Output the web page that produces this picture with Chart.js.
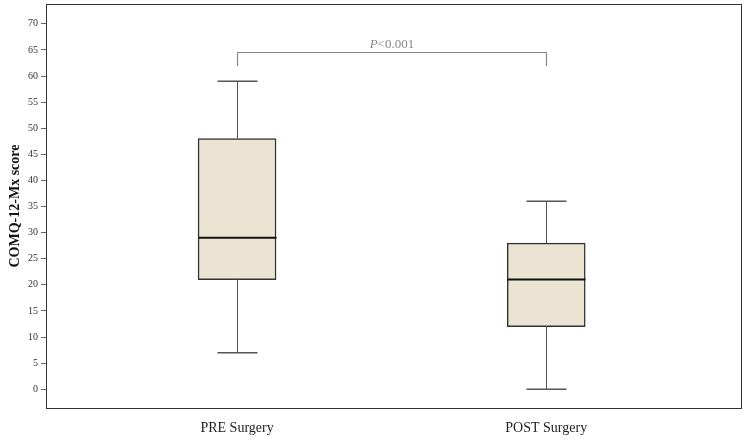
<!DOCTYPE html>
<html>
<head>
<meta charset="utf-8">
<script src="https://cdn.jsdelivr.net/npm/chart.js@4"></script>
<style>
  body { margin: 0; background: #fff; }
  canvas { display: block; }
</style>
</head>
<body>
<canvas id="boxChart" width="750" height="440"></canvas>
<script>
// Data
const categories = ['PRE Surgery', 'POST Surgery'];
const whiskerMin = [7, 0];
const q1 = [21, 12];
const median = [29, 21];
const q3 = [48, 28];
const whiskerMax = [59, 36];
const yTicks = [0, 5, 10, 15, 20, 25, 30, 35, 40, 45, 50, 55, 60, 65, 70];
const pLabel = 'P<0.001';

const serif = "'Liberation Serif', 'DejaVu Serif', serif";

// whiskers, medians, frame and the significance bracket
const boxExtras = {
    id: 'boxExtras',
    afterDatasetsDraw(chart) {
        const ctx = chart.ctx;
        const xs = chart.scales.x;
        const ys = chart.scales.y;
        ctx.save();
        categories.forEach((c, i) => {
            const x = Math.round(xs.getPixelForValue(i + 1)) + 0.5;
            ctx.strokeStyle = '#555';
            ctx.lineWidth = 1;
            ctx.beginPath();
            ctx.moveTo(x, ys.getPixelForValue(q3[i]));
            ctx.lineTo(x, ys.getPixelForValue(whiskerMax[i]));
            ctx.moveTo(x, ys.getPixelForValue(q1[i]));
            ctx.lineTo(x, ys.getPixelForValue(whiskerMin[i]));
            ctx.stroke();
            // caps
            ctx.lineWidth = 1.5;
            ctx.strokeStyle = '#555';
            ctx.beginPath();
            ctx.moveTo(x - 20, ys.getPixelForValue(whiskerMax[i]));
            ctx.lineTo(x + 20, ys.getPixelForValue(whiskerMax[i]));
            ctx.moveTo(x - 20, ys.getPixelForValue(whiskerMin[i]));
            ctx.lineTo(x + 20, ys.getPixelForValue(whiskerMin[i]));
            ctx.stroke();
            // median
            ctx.lineWidth = 2;
            ctx.strokeStyle = '#111';
            ctx.beginPath();
            ctx.moveTo(x - 39, ys.getPixelForValue(median[i]));
            ctx.lineTo(x + 39, ys.getPixelForValue(median[i]));
            ctx.stroke();
        });

        // bracket
        const x1 = Math.round(xs.getPixelForValue(1)) + 0.5;
        const x2 = Math.round(xs.getPixelForValue(2)) + 0.5;
        const yb = Math.round(ys.getPixelForValue(64.6)) + 0.5;
        const yl = ys.getPixelForValue(61.9);
        ctx.strokeStyle = '#888';
        ctx.lineWidth = 1.2;
        ctx.beginPath();
        ctx.moveTo(x1, yl);
        ctx.lineTo(x1, yb);
        ctx.lineTo(x2, yb);
        ctx.lineTo(x2, yl);
        ctx.stroke();

        ctx.fillStyle = '#888';
        ctx.textBaseline = 'alphabetic';
        const pPart = pLabel.slice(0, 1);
        const rest = pLabel.slice(1);
        ctx.font = 'italic 13px ' + serif;
        const wP = ctx.measureText(pPart).width;
        ctx.font = '13px ' + serif;
        const wR = ctx.measureText(rest).width;
        const startX = (x1 + x2) / 2 - (wP + wR) / 2;
        ctx.font = 'italic 13px ' + serif;
        ctx.textAlign = 'left';
        ctx.fillText(pPart, startX, yb - 5);
        ctx.font = '13px ' + serif;
        ctx.fillText(rest, startX + wP, yb - 5);

        // frame
        const a = chart.chartArea;
        ctx.strokeStyle = '#333';
        ctx.lineWidth = 1;
        ctx.strokeRect(Math.round(a.left) + 0.5, Math.round(a.top) + 0.5,
            Math.round(a.right - a.left), Math.round(a.bottom - a.top));
        ctx.restore();
    }
};

new Chart(document.getElementById('boxChart'), {
    type: 'bar',
    data: {
        datasets: [{
            data: categories.map((c, i) => ({ x: i + 1, y: [q1[i], q3[i]] })),
            backgroundColor: '#ebe4d3',
            borderColor: '#333',
            borderWidth: 1.5,
            borderSkipped: false,
            barThickness: 78
        }]
    },
    options: {
        responsive: false,
        animation: false,
        devicePixelRatio: 1,
        layout: { padding: { top: 4, right: 9, left: 0, bottom: 0 } },
        plugins: {
            legend: { display: false },
            tooltip: { enabled: false }
        },
        scales: {
            x: {
                type: 'linear',
                offset: false,
                min: 0.382,
                max: 2.63,
                afterBuildTicks: scale => {
                    scale.ticks = categories.map((c, i) => ({ value: i + 1 }));
                },
                afterFit: scale => {
                    scale.height = 32;
                    scale.paddingLeft = 0;
                    scale.paddingRight = 0;
                },
                ticks: {
                    callback: v => categories[v - 1],
                    color: '#222',
                    padding: 4,
                    maxRotation: 0,
                    font: { family: serif, size: 14 }
                },
                grid: { display: false },
                border: { display: false }
            },
            y: {
                min: -3.6,
                max: 73.8,
                afterBuildTicks: scale => {
                    scale.ticks = yTicks.map(v => ({ value: v }));
                },
                afterFit: scale => {
                    scale.width = 46;
                    scale.paddingTop = 0;
                    scale.paddingBottom = 0;
                },
                ticks: {
                    color: '#333',
                    padding: 3,
                    font: { family: serif, size: 10 }
                },
                grid: {
                    drawOnChartArea: false,
                    drawTicks: true,
                    tickLength: 5,
                    color: '#666'
                },
                border: { display: false },
                title: {
                    display: true,
                    text: 'COMQ-12-Mx score',
                    color: '#111',
                    padding: { top: 7, bottom: 0 },
                    font: { family: serif, size: 14, weight: 'bold' }
                }
            }
        }
    },
    plugins: [boxExtras]
});
</script>
</body>
</html>
